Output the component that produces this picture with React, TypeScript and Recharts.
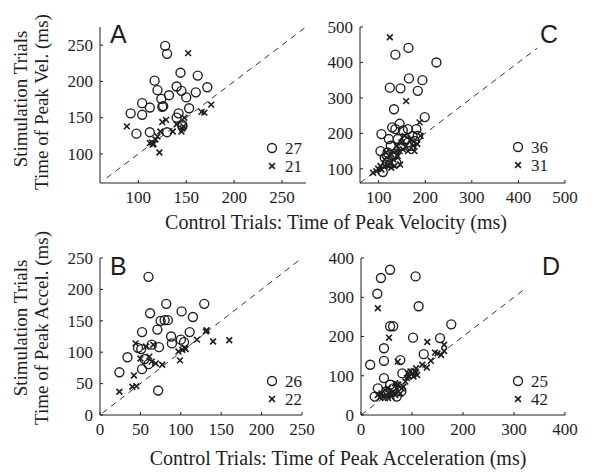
import React from 'react';
import { ScatterChart, Scatter, XAxis, YAxis, ReferenceLine } from 'recharts';

// Panel A: time of peak velocity
const velCircles = [
  { x: 128, y: 249 }, { x: 130, y: 238 }, { x: 144, y: 212 }, { x: 162, y: 208 }, { x: 117, y: 201 },
  { x: 120, y: 188 }, { x: 140, y: 193 }, { x: 145, y: 187 }, { x: 132, y: 181 }, { x: 124, y: 176 },
  { x: 150, y: 178 }, { x: 160, y: 185 }, { x: 172, y: 192 }, { x: 104, y: 170 }, { x: 112, y: 164 },
  { x: 104, y: 154 }, { x: 92, y: 156 }, { x: 126, y: 166 }, { x: 153, y: 163 }, { x: 142, y: 156 },
  { x: 140, y: 150 }, { x: 98, y: 128 }, { x: 112, y: 130 }, { x: 130, y: 130 }, { x: 146, y: 138 },
  { x: 125, y: 165 }, { x: 146, y: 140 },
];
const velCrosses = [
  { x: 152, y: 239 }, { x: 88, y: 138 }, { x: 122, y: 102 }, { x: 114, y: 116 }, { x: 116, y: 114 },
  { x: 112, y: 115 }, { x: 120, y: 124 }, { x: 123, y: 131 }, { x: 125, y: 144 }, { x: 129, y: 147 },
  { x: 136, y: 131 }, { x: 148, y: 150 }, { x: 147, y: 138 }, { x: 146, y: 135 }, { x: 166, y: 158 },
  { x: 169, y: 157 }, { x: 176, y: 168 }, { x: 118, y: 120 }, { x: 140, y: 141 }, { x: 145, y: 131 },
  { x: 115, y: 113 },
];
const velDiag = [67, 275];

// Panel C: time of peak velocity
const velCircles2 = [
  { x: 164, y: 441 }, { x: 136, y: 422 }, { x: 224, y: 400 }, { x: 165, y: 355 }, { x: 194, y: 350 },
  { x: 124, y: 329 }, { x: 147, y: 327 }, { x: 184, y: 320 }, { x: 133, y: 268 }, { x: 199, y: 246 },
  { x: 129, y: 217 }, { x: 145, y: 227 }, { x: 106, y: 198 }, { x: 104, y: 150 }, { x: 109, y: 91 },
  { x: 122, y: 184 }, { x: 136, y: 212 }, { x: 152, y: 208 }, { x: 163, y: 212 }, { x: 181, y: 212 },
  { x: 159, y: 184 }, { x: 173, y: 193 }, { x: 149, y: 165 }, { x: 170, y: 165 }, { x: 119, y: 146 },
  { x: 131, y: 136 }, { x: 120, y: 117 }, { x: 138, y: 117 }, { x: 134, y: 141 }, { x: 141, y: 184 },
  { x: 184, y: 193 }, { x: 156, y: 179 }, { x: 126, y: 165 }, { x: 113, y: 131 }, { x: 163, y: 174 },
  { x: 177, y: 179 },
];
const velCrosses2 = [
  { x: 124, y: 471 }, { x: 159, y: 291 }, { x: 188, y: 231 }, { x: 190, y: 193 }, { x: 174, y: 165 },
  { x: 145, y: 150 }, { x: 146, y: 112 }, { x: 124, y: 117 }, { x: 113, y: 108 }, { x: 99, y: 100 },
  { x: 88, y: 89 }, { x: 95, y: 93 }, { x: 106, y: 98 }, { x: 131, y: 127 }, { x: 127, y: 141 },
  { x: 141, y: 136 }, { x: 152, y: 155 }, { x: 163, y: 150 }, { x: 134, y: 108 }, { x: 113, y: 127 },
  { x: 170, y: 184 }, { x: 156, y: 193 }, { x: 177, y: 150 }, { x: 138, y: 150 }, { x: 116, y: 146 },
  { x: 120, y: 108 }, { x: 149, y: 174 }, { x: 127, y: 103 }, { x: 104, y: 108 }, { x: 139, y: 165 },
  { x: 183, y: 170 },
];
const velDiag2 = [60, 440];

// Panel B: time of peak acceleration
const accCircles = [
  { x: 60, y: 220 }, { x: 62, y: 162 }, { x: 82, y: 177 }, { x: 101, y: 165 }, { x: 129, y: 177 },
  { x: 115, y: 156 }, { x: 75, y: 150 }, { x: 80, y: 151 }, { x: 84, y: 151 }, { x: 52, y: 132 },
  { x: 71, y: 136 }, { x: 111, y: 132 }, { x: 88, y: 125 }, { x: 89, y: 114 }, { x: 100, y: 120 },
  { x: 104, y: 116 }, { x: 34, y: 92 }, { x: 47, y: 107 }, { x: 51, y: 105 }, { x: 64, y: 112 },
  { x: 73, y: 108 }, { x: 55, y: 89 }, { x: 60, y: 81 }, { x: 52, y: 73 }, { x: 24, y: 68 },
  { x: 72, y: 39 },
];
const accCrosses = [
  { x: 24, y: 37 }, { x: 42, y: 63 }, { x: 40, y: 45 }, { x: 44, y: 114 }, { x: 50, y: 90 },
  { x: 57, y: 109 }, { x: 66, y: 112 }, { x: 61, y: 93 }, { x: 69, y: 82 }, { x: 77, y: 80 },
  { x: 97, y: 101 }, { x: 99, y: 87 }, { x: 105, y: 107 }, { x: 106, y: 105 }, { x: 120, y: 120 },
  { x: 132, y: 135 }, { x: 140, y: 117 }, { x: 160, y: 119 }, { x: 45, y: 46 }, { x: 64, y: 85 },
  { x: 102, y: 104 }, { x: 131, y: 133 },
];
const accDiag = [3, 250];

// Panel D: time of peak acceleration
const accCircles2 = [
  { x: 57, y: 370 }, { x: 39, y: 349 }, { x: 32, y: 309 }, { x: 107, y: 353 }, { x: 113, y: 277 },
  { x: 57, y: 226 }, { x: 63, y: 226 }, { x: 177, y: 231 }, { x: 102, y: 197 }, { x: 155, y: 196 },
  { x: 123, y: 155 }, { x: 45, y: 170 }, { x: 45, y: 138 }, { x: 77, y: 140 }, { x: 18, y: 128 },
  { x: 45, y: 94 }, { x: 81, y: 106 }, { x: 33, y: 68 }, { x: 27, y: 47 }, { x: 57, y: 77 },
  { x: 70, y: 47 }, { x: 79, y: 60 }, { x: 50, y: 60 }, { x: 63, y: 68 }, { x: 99, y: 106 },
];
const accCrosses2 = [
  { x: 33, y: 272 }, { x: 55, y: 197 }, { x: 130, y: 186 }, { x: 72, y: 136 }, { x: 120, y: 128 },
  { x: 129, y: 121 }, { x: 145, y: 159 }, { x: 163, y: 179 }, { x: 150, y: 157 }, { x: 157, y: 153 },
  { x: 137, y: 138 }, { x: 107, y: 111 }, { x: 97, y: 111 }, { x: 93, y: 98 }, { x: 103, y: 98 },
  { x: 87, y: 85 }, { x: 70, y: 68 }, { x: 63, y: 60 }, { x: 57, y: 55 }, { x: 50, y: 51 },
  { x: 43, y: 47 }, { x: 37, y: 45 }, { x: 73, y: 77 }, { x: 67, y: 81 }, { x: 53, y: 68 },
  { x: 80, y: 68 }, { x: 60, y: 47 }, { x: 40, y: 55 }, { x: 77, y: 55 }, { x: 100, y: 106 },
  { x: 110, y: 102 }, { x: 92, y: 106 }, { x: 47, y: 64 }, { x: 67, y: 51 }, { x: 83, y: 72 },
  { x: 108, y: 119 }, { x: 33, y: 51 }, { x: 90, y: 94 }, { x: 70, y: 78 }, { x: 53, y: 43 },
  { x: 47, y: 43 }, { x: 163, y: 163 },
];
const accDiag2 = [0, 325];

const countsA = ['27', '21'];
const countsC = ['36', '31'];
const countsB = ['26', '22'];
const countsD = ['25', '42'];

const ticksA = [100, 150, 200, 250];
const ticksC = [100, 200, 300, 400, 500];
const ticksB = [0, 50, 100, 150, 200, 250];
const ticksD = [0, 100, 200, 300, 400];

const INK = '#1e1e1e';
const SERIF = 'Liberation Serif';
const SANS = 'Liberation Sans';
const serifStyle = { fontFamily: SERIF };

const CircleMark = (props: any) => (
  <circle cx={props.cx} cy={props.cy} r={4.5} fill="none" stroke={INK} strokeWidth={1.35} />
);
const CrossMark = (props: any) => {
  const { cx, cy } = props;
  const s = 2.9;
  return (
    <path d={`M${cx - s},${cy - s}L${cx + s},${cy + s}M${cx - s},${cy + s}L${cx + s},${cy - s}`}
      stroke={INK} strokeWidth={1.6} fill="none" />
  );
};

const XTick = (props: any) => (
  <text x={props.x} y={props.y} dy="0.71em" textAnchor="middle" fontSize={17} fill={INK} style={serifStyle}>
    {props.payload.value}
  </text>
);
const YTick = (props: any) => (
  <text x={props.x} y={props.y} dy="0.34em" textAnchor="end" fontSize={17} fill={INK} style={serifStyle}>
    {props.payload.value}
  </text>
);

// marker key: circle at (x, y), cross one row (18px) below
const Key = ({ x, y, counts }: { x: number; y: number; counts: string[] }) => (
  <g>
    <circle cx={x} cy={y} r={4.5} fill="none" stroke={INK} strokeWidth={1.35} />
    <path d={`M${x - 2.9},${y + 15.1}L${x + 2.9},${y + 20.9}M${x - 2.9},${y + 20.9}L${x + 2.9},${y + 15.1}`}
      stroke={INK} strokeWidth={1.6} />
    <text x={x + 13} y={y + 6} fontSize={17} fill={INK} style={serifStyle}>{counts[0]}</text>
    <text x={x + 13} y={y + 24} fontSize={17} fill={INK} style={serifStyle}>{counts[1]}</text>
  </g>
);

type PanelProps = {
  left: number; top: number; width: number; height: number; mTop: number;
  domain: [number, number]; ticks: number[];
  circles: { x: number; y: number }[]; crosses: { x: number; y: number }[];
  diag: number[];
};

const Panel = (p: PanelProps) => (
  <div style={{ position: 'absolute', left: p.left, top: p.top }}>
    <ScatterChart width={p.width} height={p.height} margin={{ top: p.mTop, right: 25, bottom: 0, left: 0 }}>
      <XAxis type="number" dataKey="x" domain={p.domain} ticks={p.ticks} allowDataOverflow interval={0}
        height={30} stroke={INK} tickSize={-3} tickMargin={11} tick={<XTick />} />
      <YAxis type="number" dataKey="y" domain={p.domain} ticks={p.ticks} allowDataOverflow interval={0}
        width={60} stroke={INK} tickSize={-3} tickMargin={10} tick={<YTick />} />
      <ReferenceLine segment={[{ x: p.diag[0], y: p.diag[0] }, { x: p.diag[1], y: p.diag[1] }]}
        stroke="#333" strokeDasharray="6 5" strokeWidth={1} />
      <Scatter data={p.circles} shape={CircleMark} isAnimationActive={false} />
      <Scatter data={p.crosses} shape={CrossMark} isAnimationActive={false} />
    </ScatterChart>
  </div>
);

export default function App() {
  return (
    <div style={{ position: 'absolute', left: 0, top: 0, width: 600, height: 475, background: '#fff', fontFamily: SERIF }}>
      <Panel left={40} top={0} width={291} height={213} mTop={27} domain={[60, 275]} ticks={ticksA}
        circles={velCircles} crosses={velCrosses} diag={velDiag} />
      <Panel left={300} top={0} width={290} height={213} mTop={27} domain={[60, 500]} ticks={ticksC}
        circles={velCircles2} crosses={velCrosses2} diag={velDiag2} />
      <Panel left={40} top={230} width={287} height={215} mTop={28} domain={[0, 250]} ticks={ticksB}
        circles={accCircles} crosses={accCrosses} diag={accDiag} />
      <Panel left={301} top={230} width={289} height={215} mTop={28} domain={[0, 400]} ticks={ticksD}
        circles={accCircles2} crosses={accCrosses2} diag={accDiag2} />
      <svg width={600} height={475} style={{ position: 'absolute', left: 0, top: 0, pointerEvents: 'none' }}>
        <Key x={272} y={148} counts={countsA} />
        <Key x={518} y={147} counts={countsC} />
        <Key x={272} y={381} counts={countsB} />
        <Key x={518} y={381} counts={countsD} />
        <g fontSize={25} fill={INK} style={{ fontFamily: SANS }}>
          <text x={110} y={43}>A</text>
          <text x={540} y={43}>C</text>
          <text x={110} y={275}>B</text>
          <text x={542} y={275}>D</text>
        </g>
        <g fontSize={20} fill={INK} textAnchor="middle" style={serifStyle}>
          <text x={336} y={229}>Control Trials: Time of Peak Velocity (ms)</text>
          <text x={338} y={465}>Control Trials: Time of Peak Acceleration (ms)</text>
        </g>
        <g fontSize={19} fill={INK} textAnchor="middle" style={serifStyle}>
          <text transform="translate(27,99) rotate(-90)">Stimulation Trials</text>
          <text transform="translate(48,102) rotate(-90)">Time of Peak Vel. (ms)</text>
          <text transform="translate(27,328) rotate(-90)">Stimulation Trials</text>
          <text transform="translate(48,328) rotate(-90)">Time of Peak Accel. (ms)</text>
        </g>
      </svg>
    </div>
  );
}
